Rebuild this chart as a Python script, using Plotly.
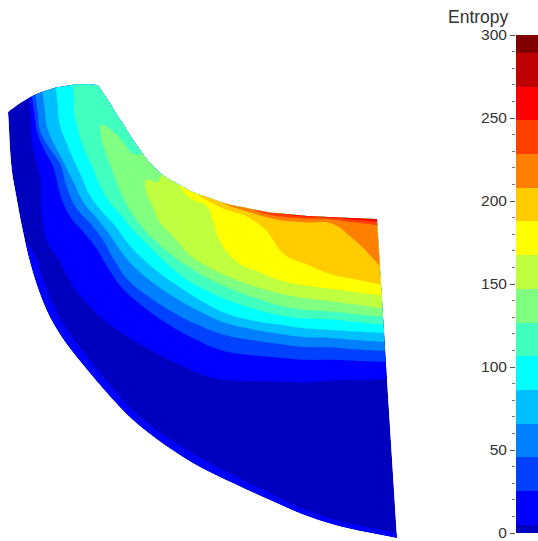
import numpy as np
import plotly.graph_objects as go

W, H = 538, 541

# contour levels and jet-like band colours (low to high)
LEVEL_START, LEVEL_END, LEVEL_SIZE = 5.0, 289.2, 20.3
BAND_COLORS = ["#0000bf", "#0000ff", "#0040ff", "#0080ff", "#00bfff", "#00ffff",
               "#40ffbf", "#80ff80", "#bfff40", "#ffff00", "#ffcc00", "#ff8000",
               "#ff4000", "#ff0000", "#bf0000", "#800000"]
BAR_EDGES = [0, 5, 25.3, 45.6, 65.9, 86.2, 106.5, 126.8, 147.1, 167.4, 187.7,
             208, 228.3, 248.6, 268.9, 289.2, 300]
BAR_TICKS = [0, 50, 100, 150, 200, 250, 300]
BAR_TITLE = "Entropy"

# domain outline: inner and outer wall per station
INNER_X = [98, 104, 110, 116, 122, 130, 138, 146, 155, 166, 178, 193, 210, 228, 247, 267, 287, 308, 330, 353, 377]
INNER_Y = [85, 94, 103, 113, 122, 135, 147, 158, 168, 177, 184, 192, 198, 204, 208, 212, 214, 216, 217, 218, 219]
OUTER_X = [8, 9, 10, 12, 16, 22, 29, 38, 50, 66, 85, 108, 133, 165, 200, 235, 270, 302, 335, 366, 397]
OUTER_Y = [112, 130, 150, 172, 195, 227, 258, 288, 317, 343, 367, 394, 420, 445, 467, 484, 500, 514, 525, 532, 538]
TOP_BULGE = [10, 7, 5, 3, 1.5, .5] + [0] * 15

# read-off tracks across the stations: spanwise position (0 inner wall, 1 outer wall)
TRACK_POS = [
    [0] * 21,
    [.01, .01, .01, .01, .01, .01, .01, .01, .01, .01, .01, .01, .008, .007, .006, .009, .012, .009, .006, .012, .02],
    [.025, .025, .025, .025, .025, .025, .025, .025, .025, .025, .025, .02, .015, .015, .014, .02, .025, .022, .02, .045, .08],
    [.05, .05, .05, .05, .05, .05, .05, .05, .05, .05, .05, .045, .04, .04, .04, .06, .08, .08, .08, .07, .15],
    [.08, .09, .1, .1, .1, .1, .1, .09, .08, .085, .09, .085, .08, .09, .1, .12, .143, .165, .188, .197, .207],
    [.11, .135, .16, .155, .15, .15, .15, .145, .14, .145, .15, .15, .15, .155, .16, .18, .2, .208, .215, .22, .225],
    [.14, .17, .2, .2, .2, .195, .19, .195, .2, .2, .2, .2, .2, .205, .21, .223, .236, .235, .234, .237, .24],
    [.18, .21, .24, .232, .225, .222, .22, .225, .23, .235, .24, .25, .26, .268, .275, .278, .28, .277, .274, .277, .28],
    [.22, .26, .3, .285, .27, .25, .23, .245, .26, .275, .29, .297, .305, .31, .315, .318, .322, .315, .307, .307, .307],
    [.26, .3, .34, .35, .36, .35, .35, .34, .32, .325, .33, .342, .355, .358, .36, .358, .355, .344, .333, .332, .332],
    [.44, .465, .49, .48, .47, .45, .44, .41, .385, .392, .40, .40, .40, .405, .41, .40, .388, .378, .367, .362, .357],
    [.59, .60, .61, .58, .55, .52, .5, .46, .44, .45, .46, .455, .45, .447, .445, .432, .42, .407, .393, .39, .386],
    [.67, .675, .68, .63, .58, .58, .56, .51, .49, .51, .53, .52, .51, .50, .49, .472, .455, .44, .424, .419, .414],
    [.71, .71, .71, .675, .64, .645, .625, .575, .55, .565, .58, .572, .565, .557, .55, .527, .503, .483, .464, .456, .448],
    [.745, .755, .77, .77, .77, .82, .84, .80, .79, .775, .76, .73, .70, .68, .66, .623, .587, .56, .532, .517, .502],
    [.85, .86, .87, .875, .88, .90, .90, .88, .87, .865, .86, .845, .83, .815, .8, .8, .8, .775, .75, .745, .74],
    [.97, .97, .97, .97, .97, .955, .94, .942, .945, .95, .955, .96, .965, .965, .965, .97, .975, .978, .98, .98, .98],
    [1] * 21,
]
# entropy read along each track
ENTROPY = [
    [118, 119, 120, 119, 118, 120, 122, 130, 138, 151, 165, 182, 200, 212, 225, 238, 252, 257, 262, 264, 265],
    [117.5, 119, 120.5, 120, 119, 121, 122.5, 131, 139, 151, 163, 179, 195, 206, 218, 228, 228, 229, 230, 229, 228],
    [116.5, 119, 121.5, 121, 120.5, 122, 123.5, 132, 140.5, 150, 159, 173, 188, 197, 205, 207, 207.7, 207.7, 207.7, 214, 220],
    [115.8, 119.5, 123, 123.5, 124, 125, 126, 134, 143, 149, 155, 161, 167, 172, 178, 188, 198, 200.5, 203, 207.7, 207.7],
    [114.5, 119.5, 124.5, 125.5, 126.5, 130, 133, 140, 147.5, 150, 153, 158, 163, 172, 181, 185, 187.4, 187.4, 187.4, 187.4, 187.4],
    [113, 117.5, 122, 125.5, 129.5, 133, 136.5, 141, 146, 147.5, 149, 153.5, 158, 166.5, 175, 175, 175, 175, 175.5, 176, 177],
    [112, 115, 118, 122, 126.5, 130, 134, 136.5, 139, 143, 147.5, 151, 155, 161, 167.1, 167.1, 167.1, 167.1, 167.1, 167.1, 167.1],
    [110, 112, 114, 119, 124, 126, 128, 131, 134.5, 137, 139, 143, 146.8, 146.8, 146.8, 146.8, 146.8, 146.8, 146.8, 146.8, 146.8],
    [108.3, 109, 110, 114.5, 119, 122.5] + [126.5] * 15,
    [106.2] * 21,
    [85.9] * 21,
    [65.6] * 21,
    [45.3] * 21,
    [25] * 21,
    [4.7] * 21,
    [3] * 21,
    [3, 3, 3, 3, 3, 3.5] + [4.7] * 15,
    [3, 3, 3, 3, 3, 4, 6, 9, 12, 12, 12, 11, 10, 9.5, 9, 8.5, 8, 7.5, 7, 6.5, 6],
]

# carpet mesh built from the wall outlines and the tracks
pos = np.array(TRACK_POS, dtype=float).T          # station, track
ix, iy, ox, oy = map(np.array, (INNER_X, INNER_Y, OUTER_X, OUTER_Y))
mesh_x, mesh_y = [], []
for j in range(len(ix)):
    dx, dy = ox[j] - ix[j], oy[j] - iy[j]
    n = np.hypot(dx, dy)
    nx, ny = dy / n, -dx / n
    if ny > 0:
        nx, ny = -nx, -ny
    span = pos[j]
    bulge = 4 * span * (1 - span) * TOP_BULGE[j]
    mesh_x.append((ix[j] + span * dx + nx * bulge).tolist())
    mesh_y.append((iy[j] + span * dy + ny * bulge).tolist())
z_grid = np.array(ENTROPY, dtype=float).T.tolist()

n = len(BAND_COLORS)
stepped = []
for i, c in enumerate(BAND_COLORS):
    stepped += [[i / n, c], [(i + 1) / n, c]]

hidden = dict(showgrid=False, startline=False, endline=False, showticklabels="none",
              minorgridcount=0, showline=False, title="")
a_idx = list(range(len(TRACK_POS)))
b_idx = list(range(len(INNER_X)))

fig = go.Figure()
fig.add_trace(go.Carpet(
    carpet="c", a=a_idx, b=b_idx, x=mesh_x, y=mesh_y,
    aaxis=dict(hidden, smoothing=0), baxis=dict(hidden, smoothing=1),
    xaxis="x", yaxis="y"))
fig.add_trace(go.Contourcarpet(
    carpet="c", a=a_idx, b=b_idx, z=z_grid,
    autocontour=False,
    contours=dict(start=LEVEL_START, end=LEVEL_END, size=LEVEL_SIZE, coloring="fill",
                  showlines=False),
    line=dict(width=0, smoothing=1.3),
    colorscale=stepped, showscale=False, xaxis="x", yaxis="y"))

mids = [(a + b) / 2 for a, b in zip(BAR_EDGES[:-1], BAR_EDGES[1:])]
fig.add_trace(go.Heatmap(
    x=[0, 1], y=BAR_EDGES, z=[[m] for m in mids],
    zmin=LEVEL_START - LEVEL_SIZE, zmax=LEVEL_END + LEVEL_SIZE,
    colorscale=stepped, showscale=False, xaxis="x2", yaxis="y2"))

font = dict(family="Liberation Sans, Arial, sans-serif", color="#333333")
fig.update_layout(
    width=W, height=H, autosize=False, margin=dict(l=0, r=0, t=0, b=0),
    paper_bgcolor="white", plot_bgcolor="white", showlegend=False,
    xaxis=dict(domain=[0, 510 / W], range=[0, 510], visible=False, fixedrange=True, automargin=False),
    yaxis=dict(domain=[0, 1], range=[H, 0], visible=False, fixedrange=True, automargin=False),
    xaxis2=dict(domain=[516 / W, 1], range=[0, 1], visible=False, anchor="y2", fixedrange=True, automargin=False),
    yaxis2=dict(domain=[(H - 533) / H, (H - 35) / H], range=[0, 300], anchor="x2", automargin=False,
                tickmode="array", tickvals=BAR_TICKS, ticks="outside", ticklen=5, tickwidth=1,
                tickcolor="#555555", showgrid=False, zeroline=False, showline=False,
                tickfont=dict(font, size=15.5), ticklabeloverflow="allow",
                minor=dict(dtick=10, ticks="outside", ticklen=3, tickcolor="#777777", showgrid=False),
                fixedrange=True),
    annotations=[dict(text=BAR_TITLE, xref="paper", yref="paper", x=511 / W, y=(H - 17) / H,
                      xanchor="right", yanchor="middle", showarrow=False,
                      font=dict(font, size=17.5))],
)
fig.write_html("out.html", config=dict(displayModeBar=False),
               post_script="document.body.style.margin='0';document.documentElement.style.overflow='hidden';")
